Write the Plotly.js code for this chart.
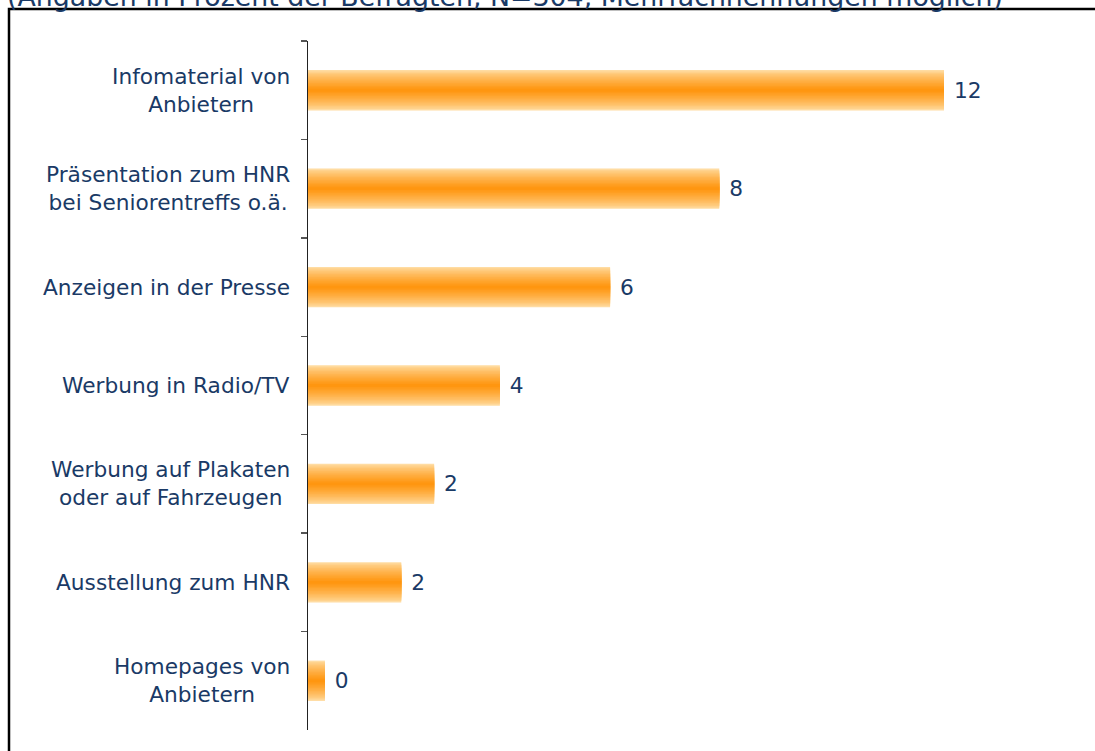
<!DOCTYPE html>
<html>
<head>
<meta charset="utf-8">
<script src="https://cdn.plot.ly/plotly-3.0.1.min.js"></script>
<style>html,body{margin:0;padding:0;background:#fff;}#chart{width:1095px;height:751px;}</style>
</head>
<body>
<div id="chart"></div>
<script>
// ---- data ----
const categories = [
  "Infomaterial von<br>Anbietern",
  "Präsentation zum HNR<br>bei Seniorentreffs o.ä.",
  "Anzeigen in der Presse",
  "Werbung in Radio/TV",
  "Werbung auf Plakaten<br>oder auf Fahrzeugen",
  "Ausstellung zum HNR",
  "Homepages von<br>Anbietern"
];
const values = [12.0, 7.76, 5.70, 3.62, 2.38, 1.76, 0.32];
const valueLabels = ["12", "8", "6", "4", "2", "2", "0"];
const subtitle = "(Angaben in Prozent der Befragten, N=304, Mehrfachnennungen möglich)";

// ---- style ----
const FONT = "DejaVu Sans, Verdana, sans-serif";
const TXT = "#1A3A66";
const W = 1095, H = 751;
const ML = 308, MR = 72, MT = 41, MB = 21;
const PW = W - ML - MR, PH = H - MT - MB;
const px2x = p => (p - ML) / PW;
const py2y = p => (H - MB - p) / PH;

const light = [255, 220, 162], dark = [255, 146, 8];
const NB = 14, BAR_W = 0.41;
const traces = [];
for (let i = 0; i < NB; i++) {
  const f = i / NB;
  const t = Math.pow(f, 0.75);
  const c = light.map((v, k) => Math.round(v + (dark[k] - v) * t));
  traces.push({
    type: "bar",
    orientation: "h",
    y: categories,
    x: values,
    width: BAR_W * (1 - f),
    marker: {color: `rgb(${c.join(",")})`, line: {width: 0}},
    text: i === 0 ? valueLabels.map(s => "\u00a0" + s) : undefined,
    textposition: i === 0 ? "outside" : "none",
    textfont: {family: FONT, size: 21.7, color: TXT},
    cliponaxis: false,
    hoverinfo: "skip",
    showlegend: false
  });
}

const annotations = categories.map(c => ({
  xref: "paper", yref: "y",
  x: px2x(292), y: c,
  xanchor: "right", yanchor: "middle",
  align: "center",
  text: c,
  showarrow: false,
  font: {family: FONT, size: 21.7, color: TXT}
}));
annotations.push({
  xref: "paper", yref: "paper",
  x: px2x(5), y: py2y(-3),
  xanchor: "left", yanchor: "middle",
  text: subtitle,
  showarrow: false,
  font: {family: FONT, size: 26.8, color: TXT}
});

const layout = {
  width: W, height: H,
  margin: {l: ML, r: MR, t: MT, b: MB, pad: 0},
  paper_bgcolor: "#fff", plot_bgcolor: "#fff",
  barmode: "overlay",
  showlegend: false,
  xaxis: {range: [0, PW / 53], visible: false, fixedrange: true},
  yaxis: {
    type: "category",
    categoryorder: "array", categoryarray: categories,
    autorange: "reversed",
    showticklabels: false,
    showline: true, linecolor: "#222", linewidth: 1.5,
    ticks: "outside", tickson: "boundaries", ticklen: 6, tickcolor: "#555", tickwidth: 1.5,
    showgrid: false, zeroline: false, fixedrange: true
  },
  annotations: annotations,
  shapes: [{
    type: "rect", xref: "paper", yref: "paper",
    x0: px2x(9), x1: px2x(W + 20), y0: py2y(H + 20), y1: py2y(9),
    line: {color: "#000", width: 2.5}, fillcolor: "rgba(0,0,0,0)", layer: "above"
  }]
};

Plotly.newPlot("chart", traces, layout, {staticPlot: true, displayModeBar: false});
</script>
</body>
</html>
